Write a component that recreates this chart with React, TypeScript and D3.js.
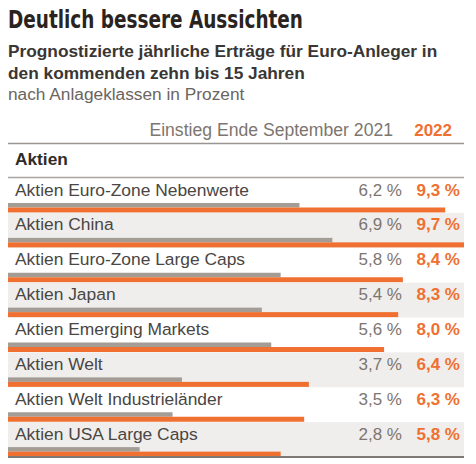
import React from "react";
import * as d3 from "d3";

const categories = [
  "Aktien Euro-Zone Nebenwerte",
  "Aktien China",
  "Aktien Euro-Zone Large Caps",
  "Aktien Japan",
  "Aktien Emerging Markets",
  "Aktien Welt",
  "Aktien Welt Industrieländer",
  "Aktien USA Large Caps",
];
const values2021 = [6.2, 6.9, 5.8, 5.4, 5.6, 3.7, 3.5, 2.8];
const values2022 = [9.3, 9.7, 8.4, 8.3, 8.0, 6.4, 6.3, 5.8];
const seriesLabels = ["2021", "2022"];

const W = 476;
const H = 464;
const FONT = "'Liberation Sans', Arial, sans-serif";
const GRAY = "#a49d96";
const ORANGE = "#ef7030";
const GRAYTXT = "#7d756f";

export default function App() {
  const left = 8;
  const right = 464;
  const x = d3.scaleLinear().domain([0, 9.7]).range([left, right]);
  const rowsTop = 178;
  const y = d3
    .scaleBand<number>()
    .domain(categories.map((_, i) => i))
    .range([rowsTop, 457])
    .paddingInner(0)
    .paddingOuter(0);
  const bh = y.bandwidth();
  const fmt = (v: number) => d3.format(".1f")(v).replace(".", ",") + " %";

  return (
    <svg width={W} height={H} style={{ position: "absolute", left: 0, top: 0, background: "#fff" }}>
      <rect x={0} y={0} width={W} height={H} fill="#fff" />
      <text x={8} y={28} textLength={295} lengthAdjust="spacingAndGlyphs" fontFamily="'DejaVu Sans Condensed', 'Liberation Sans Narrow', sans-serif" fontWeight="bold" fontSize={24.5} fill="#2a231e">
        Deutlich bessere Aussichten
      </text>
      <text x={8} y={57} fontFamily={FONT} fontWeight="bold" fontSize={17.3} fill="#3a3633">
        Prognostizierte jährliche Erträge für Euro-Anleger in
      </text>
      <text x={8} y={79} fontFamily={FONT} fontWeight="bold" fontSize={17.3} fill="#3a3633">
        den kommenden zehn bis 15 Jahren
      </text>
      <text x={8} y={100} fontFamily={FONT} fontSize={17.3} fill="#6b6560">
        nach Anlageklassen in Prozent
      </text>

      <text x={393} y={136} textAnchor="end" fontFamily={FONT} fontSize={17.6} fill={GRAYTXT}>
        Einstieg Ende September {seriesLabels[0]}
      </text>
      <text x={452} y={136} textAnchor="end" fontFamily={FONT} fontWeight="bold" fontSize={17} fill={ORANGE}>
        {seriesLabels[1]}
      </text>
      <line x1={left} x2={right} y1={143.5} y2={143.5} stroke="#9a9590" strokeWidth={1.5} />
      <text x={15} y={165} fontFamily={FONT} fontWeight="bold" fontSize={17.3} fill="#2f2b28">
        Aktien
      </text>
      <line x1={left} x2={right} y1={177.5} y2={177.5} stroke="#aaa5a0" strokeWidth={1.5} />

      {categories.map((c, i) => {
        const top = y(i)!;
        return (
          <g key={c}>
            {i % 2 === 1 && <rect x={left} y={top} width={right - left} height={bh} fill="#efeeec" />}
            <text x={15} y={top + 17.5} fontFamily={FONT} fontSize={17.4} fill="#4a4643">
              {c}
            </text>
            <text x={402} y={top + 17.5} textAnchor="end" fontFamily={FONT} fontSize={17} fill={GRAYTXT}>
              {fmt(values2021[i])}
            </text>
            <text x={460} y={top + 17.5} textAnchor="end" fontFamily={FONT} fontWeight="bold" fontSize={17} fill={ORANGE}>
              {fmt(values2022[i])}
            </text>
            <rect x={x(0)} y={top + 25} width={x(values2021[i]) - x(0)} height={4.5} fill={GRAY} />
            <rect x={x(0)} y={top + 29.5} width={x(values2022[i]) - x(0)} height={5} fill={ORANGE} />
          </g>
        );
      })}
      <line x1={left} x2={right} y1={457} y2={457} stroke="#7f7a76" strokeWidth={2} />
    </svg>
  );
}
